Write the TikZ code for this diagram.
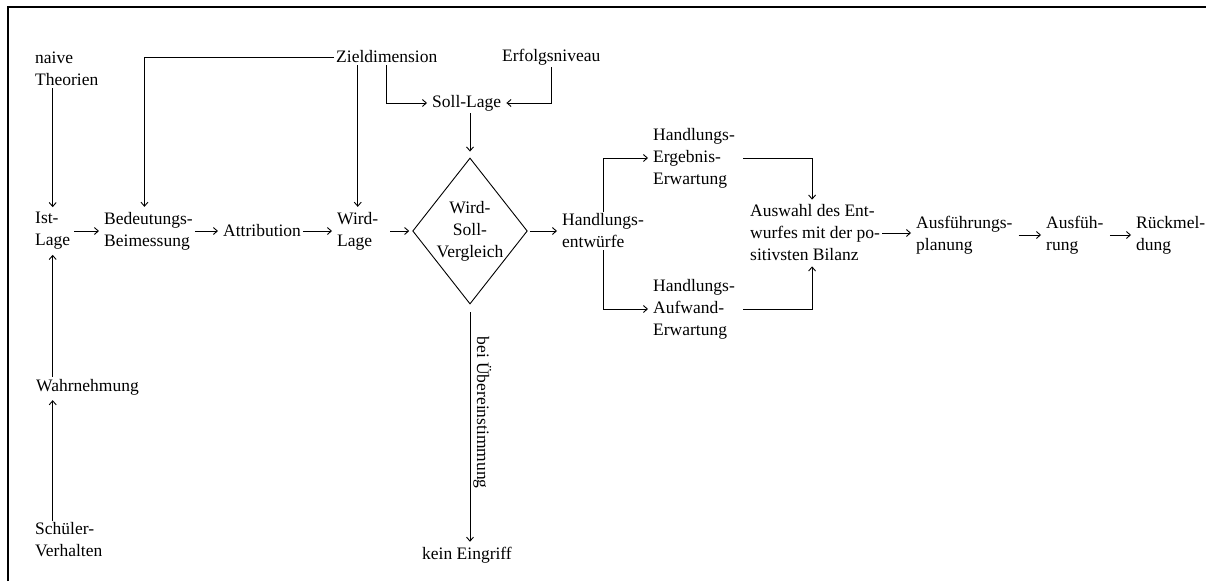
\documentclass[tikz,border=0pt]{standalone}
\usepackage{fontspec}
\setmainfont{Liberation Serif}
\usetikzlibrary{arrows.meta,shapes.geometric}

\begin{document}
\begin{tikzpicture}[x=1pt,y=-1pt,
    txt/.style={font=\fontsize{17.5}{22}\selectfont, align=left, inner sep=2pt, anchor=west},
    arr/.style={-{Straight Barb[length=4pt,width=7pt]}, line width=0.9pt, shorten >=3pt},
    vgl/.style={draw, diamond, line width=0.9pt, aspect=0.8, inner sep=0pt,
      minimum width=110pt, minimum height=146pt, align=center,
      font=\fontsize{17.5}{22}\selectfont}]
    \useasboundingbox (0,0) rectangle (1206,581);
    \draw[line width=2.6pt] (8,581) -- (8,7) -- (1206,7);
    % left column
    \node[txt] (naive) at (33,69) {naive\\Theorien};
    \node[txt] (ist) at (33,231) {Ist-\\Lage};
    \node[txt] (wahr) at (34,387) {Wahrnehmung};
    \node[txt] (schueler) at (33,540) {Schüler-\\Verhalten};
    % main row
    \node[txt] (bed) at (102,231) {Bedeutungs-\\Beimessung};
    \node[txt] (attr) at (221,231) {Attribution};
    \node[txt] (wird) at (335,231) {Wird-\\Lage};
    \node[vgl] (vergleich) at (470,231) {Wird-\\Soll-\\Vergleich};
    \node[txt] (entw) at (560,231) {Handlungs-\\entwürfe};
    \node[txt] (ergebnis) at (651,158) {Handlungs-\\Ergebnis-\\Erwartung};
    \node[txt] (aufwand) at (651,309) {Handlungs-\\Aufwand-\\Erwartung};
    \node[txt] (auswahl) at (748,233) {Auswahl des Ent-\\wurfes mit der po-\\sitivsten Bilanz};
    \node[txt] (planung) at (914,235) {Ausführungs-\\planung};
    \node[txt] (ausf) at (1044,235) {Ausfüh-\\rung};
    \node[txt] (rueck) at (1134,235) {Rückmel-\\dung};
    % top row
    \node[txt] (ziel) at (334,57) {Zieldimension};
    \node[txt] (erfolg) at (500,57) {Erfolgsniveau};
    \node[txt] (soll) at (430,103) {Soll-Lage};
    \node[txt, anchor=center] (kein) at (467,555) {kein Eingriff};
    % connectors
    \draw[arr] (ist.north |- naive.south) -- (ist.north);
    \draw[arr] (ist.south |- wahr.north) -- (ist.south);
    \draw[arr] (ist.south |- schueler.north) -- (ist.south |- wahr.south);
    \draw[arr, shorten <=2pt] (ist.east) -- (bed.west);
    \draw[arr] (bed.east) -- (attr.west);
    \draw[arr] (attr.east) -- (wird.west);
    \draw[arr, shorten <=10pt] (wird.east) -- (vergleich.west);
    \draw[arr, shorten <=2pt] (vergleich.east) -- (entw.west);
    \draw[arr] (ziel.west) -| ([xshift=-4pt]bed.north);
    \draw[arr] (ziel.south -| wird.north) -- (wird.north);
    \draw[arr] (ziel.south) |- (soll.west);
    \draw[arr] (erfolg.south) |- (soll.east);
    \draw[arr, shorten >=6pt] (soll.south -| vergleich.north) -- (vergleich.north);
    \draw[arr] (entw.north) |- (ergebnis.west);
    \draw[arr] (entw.south) |- (aufwand.west);
    \draw[arr, shorten <=6pt] (ergebnis.east) -| ([xshift=-3pt]auswahl.north);
    \draw[arr, shorten <=6pt] (aufwand.east) -| ([xshift=-3pt]auswahl.south);
    \draw[arr] (auswahl.east) -- (planung.west |- auswahl.east);
    \draw[arr, shorten <=4pt] (planung.east) -- (ausf.west);
    \draw[arr, shorten <=4pt] (ausf.east) -- (rueck.west);
    \draw[arr, shorten <=8pt] (vergleich.south) -- node[txt, pos=0.45, rotate=-90, anchor=south, inner sep=3pt] (bei) {bei Übereinstimmung} (kein.north -| vergleich.south);
  \end{tikzpicture}
\end{document}
